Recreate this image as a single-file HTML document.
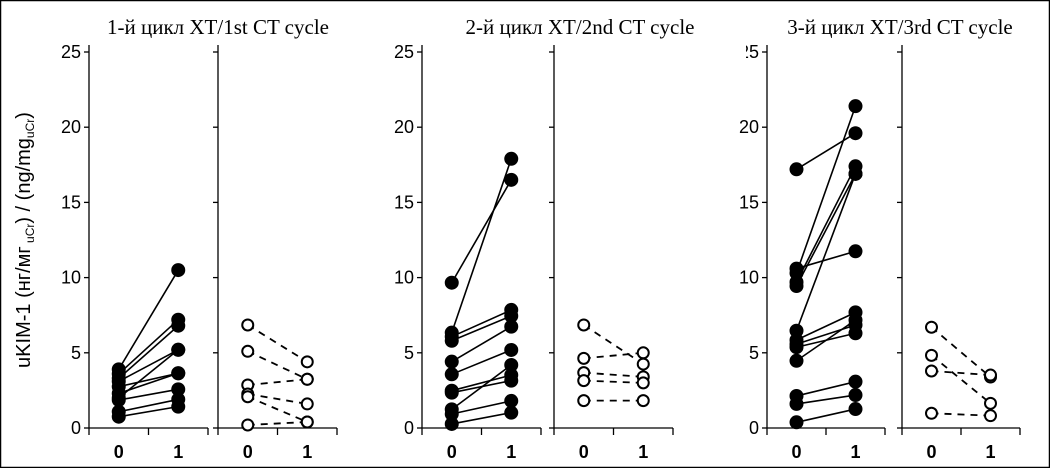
<!DOCTYPE html>
<html><head><meta charset="utf-8"><style>
html,body{margin:0;padding:0;background:#fff}
svg{display:block}
</style></head><body>
<svg id="chart" width="1050" height="468" viewBox="0 0 1050 468" xmlns="http://www.w3.org/2000/svg">
<defs><clipPath id="clip3"><rect x="746" y="0" width="40" height="468"/></clipPath></defs>
<rect x="0.5" y="0.5" width="1049" height="467" fill="#fff" stroke="#000" stroke-width="1.5"/>
<text transform="translate(30,240) rotate(-90)" text-anchor="middle" font-family="Liberation Sans, sans-serif" font-size="20">uKIM-1 (нг/мг<tspan font-size="12" dy="4"> uCr</tspan><tspan dy="-4">) / (ng/mg</tspan><tspan font-size="12" dy="4">uCr</tspan><tspan dy="-4">)</tspan></text>
<g id="plots"></g>
</svg>
<script>
// Data: [baseline (0), after (1)] pairs per panel
const filled1 = [[3.9,10.5],[3.6,7.2],[3.3,6.8],[3.1,5.2],[2.75,3.64],[2.0,5.2],[2.3,3.64],[1.86,2.57],[1.08,1.9],[0.75,1.42]];
const open1 = [[6.85,4.4],[5.1,3.24],[2.86,3.24],[2.26,1.6],[2.08,0.4],[0.2,0.4]];
const filled2 = [[9.66,16.5],[6.34,17.9],[6.07,7.85],[5.8,7.45],[4.41,6.74],[3.57,5.19],[2.48,3.52],[2.35,3.15],[1.24,4.19],[0.93,1.8],[0.27,1.02]];
const open2 = [[6.85,4.25],[4.63,5.0],[3.68,3.4],[3.15,3.0],[1.82,1.82]];
const filled3 = [[17.2,19.6],[10.6,11.75],[10.3,21.4],[9.7,17.4],[9.44,16.9],[6.47,16.9],[5.85,7.69],[5.58,6.85],[5.37,6.3],[4.47,7.18],[2.13,3.08],[1.6,2.19],[0.38,1.26]];
const open3 = [[6.7,3.39],[4.83,1.64],[3.79,3.52],[0.98,0.82]];
const titles = ["1-й цикл ХТ/1st CT cycle","2-й цикл ХТ/2nd CT cycle","3-й цикл ХТ/3rd CT cycle"];
const yTicks = [0,5,10,15,20,25];
const xCats = ["0","1"];

const NS="http://www.w3.org/2000/svg";
const root=document.getElementById('plots');
function mk(tag,attrs,parent){const e=document.createElementNS(NS,tag);for(const k in attrs)e.setAttribute(k,attrs[k]);(parent||root).appendChild(e);return e;}
const y0=428, y1=52;
function yS(v){return y0-(v/25)*(y0-y1);}
const panels=[
 {ax1:89, ax2:218, w:119, tx:218, filled:filled1, open:open1},
 {ax1:422, ax2:554, w:119, tx:580, filled:filled2, open:open2},
 {ax1:767, ax2:902, w:118, tx:900, filled:filled3, open:open3}
];
panels.forEach((p,pi)=>{
  const g=mk('g',{});
  
  
  const t=mk('text',{x:p.tx,y:34,'text-anchor':'middle','font-family':'Liberation Serif, serif','font-size':21},g);
  t.textContent=titles[pi];
  
  
  [p.ax1,p.ax2].forEach((ax,si)=>{
    const xS=c=>ax+p.w*(c+0.5)/2;
    const sg=mk('g',{},g);
    
    
    mk('line',{x1:ax,y1:45,x2:ax,y2:y0,stroke:'#000','stroke-width':1.3},sg);
    mk('line',{x1:ax,y1:y0,x2:ax+p.w,y2:y0,stroke:'#000','stroke-width':1.3},sg);
    [0,0.5,1].forEach(f=>mk('line',{x1:ax+p.w*f,y1:y0,x2:ax+p.w*f,y2:y0+7,stroke:'#000','stroke-width':1.3},sg));
    yTicks.forEach(v=>{
      mk('line',{x1:ax-5,y1:yS(v),x2:ax,y2:yS(v),stroke:'#000','stroke-width':1.3},sg);
      if(si===0){
        const lt=mk('text',{x:ax-8,y:yS(v)+6,'text-anchor':'end','font-family':'Liberation Sans, sans-serif','font-size':18},sg);
        lt.textContent=String(v);
        
        
        if(pi===2 && v===25) lt.setAttribute('clip-path','url(#clip3)');
      }
    });
    xCats.forEach((c,ci)=>{
      const xt=mk('text',{x:xS(ci),y:458,'text-anchor':'middle','font-family':'Liberation Sans, sans-serif','font-size':18,'font-weight':'bold'},sg);
      xt.textContent=c;
      
      
    });
    const data=si===0?p.filled:p.open;
    data.forEach(d=>{
      const ln=mk('line',{x1:xS(0),y1:yS(d[0]),x2:xS(1),y2:yS(d[1]),stroke:'#000','stroke-width':si===0?1.6:1.8},sg);
      if(si===1) ln.setAttribute('stroke-dasharray','7,6');
      
      
    });
    data.forEach(d=>{
      [0,1].forEach(k=>{
        const c=mk('circle',{cx:xS(k),cy:yS(d[k]),r:si===0?6:5.5,fill:si===0?'#000':'#fff',stroke:'#000','stroke-width':2},sg);
        
        
      });
    });
  });
});
</script>
</body></html>
